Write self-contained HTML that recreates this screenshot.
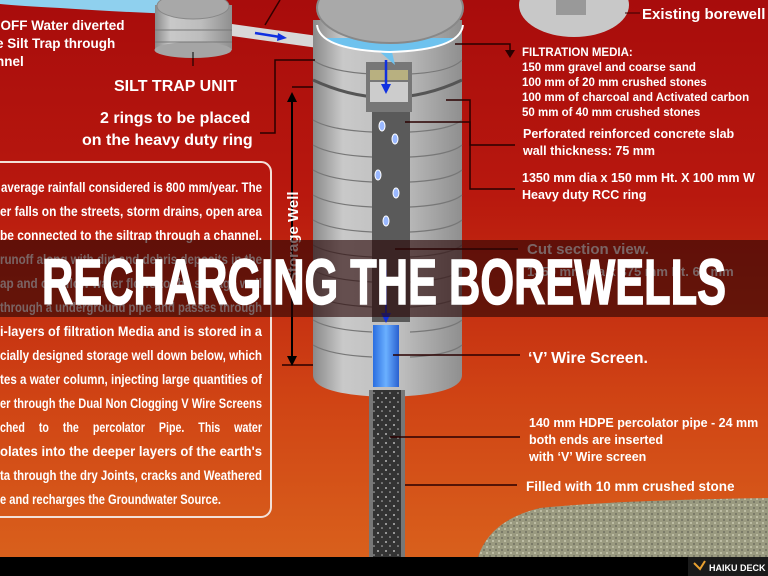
<!DOCTYPE html>
<html><head><meta charset="utf-8"><style>
html,body{margin:0;padding:0;width:768px;height:576px;overflow:hidden;background:#000}
svg{display:block}
text{font-family:"Liberation Sans",Arial,sans-serif;font-weight:bold;fill:#fff}
</style></head><body>
<svg width="768" height="576" viewBox="0 0 768 576" xmlns="http://www.w3.org/2000/svg">
<defs>
<linearGradient id="bg" x1="0" y1="0" x2="0" y2="1">
<stop offset="0" stop-color="#a80c0c"/><stop offset="0.35" stop-color="#b8180e"/>
<stop offset="0.7" stop-color="#cf4214"/><stop offset="1" stop-color="#d9601c"/>
</linearGradient>
<linearGradient id="cyl" x1="0" y1="0" x2="1" y2="0">
<stop offset="0" stop-color="#8a8a8a"/><stop offset="0.2" stop-color="#c9c9c9"/>
<stop offset="0.6" stop-color="#bdbdbd"/><stop offset="1" stop-color="#8f8f8f"/>
</linearGradient>
<linearGradient id="blue" x1="0" y1="0" x2="1" y2="0">
<stop offset="0" stop-color="#2a6de0"/><stop offset="0.5" stop-color="#6ab0ff"/><stop offset="1" stop-color="#2a60d0"/>
</linearGradient>
<pattern id="dots" width="8" height="9" patternUnits="userSpaceOnUse">
<rect width="8" height="9" fill="#333"/><circle cx="2" cy="2" r="0.9" fill="#ddd"/><circle cx="6" cy="6" r="0.8" fill="#bbb"/>
</pattern>
<pattern id="grav" width="6" height="6" patternUnits="userSpaceOnUse">
<rect width="6" height="6" fill="#9a9a80"/><circle cx="1" cy="1" r="1" fill="#c8c8b0"/><circle cx="4" cy="4" r="1" fill="#707060"/>
</pattern>
</defs>
<rect width="768" height="557" fill="url(#bg)"/>
<path d="M0 0 H170 L175 14 Q120 12 60 8 Q20 6 0 4 Z" fill="#8fd0ee"/>
<rect x="155" y="5" width="77" height="45" fill="url(#cyl)"/>
<ellipse cx="193" cy="50" rx="38.5" ry="8" fill="#a5a5a5"/>
<line x1="155" y1="30" x2="232" y2="30" stroke="#777"/><line x1="155" y1="42" x2="232" y2="42" stroke="#777"/>
<ellipse cx="193" cy="6" rx="36" ry="13" fill="#a8a8a8" stroke="#888"/>
<line x1="193" y1="52" x2="193" y2="66" stroke="#000"/>
<path d="M232 24 L318 36 L318 48 L232 36 Z" fill="#d8d8d8"/>
<line x1="255" y1="33" x2="280" y2="37" stroke="#1030e0" stroke-width="2.5"/><path d="M278 33 L287 38 L277 41 Z" fill="#1030e0"/>
<line x1="265" y1="25" x2="280" y2="0" stroke="#300" stroke-width="1.5"/>
<ellipse cx="574" cy="5" rx="55" ry="32" fill="#c8c8c8"/>
<rect x="556" y="-5" width="30" height="20" fill="#999"/>
<line x1="625" y1="13" x2="640" y2="13" stroke="#300"/>
<path d="M313 20 V375 Q313 395 388 397 Q462 395 462 375 V20 Z" fill="url(#cyl)"/>
<g stroke="#777" stroke-width="1.2" fill="none">
<path d="M313 60 Q330 72 372 74"/><path d="M410 74 Q450 72 462 60"/>
<path d="M313 120 Q330 130 372 132"/><path d="M410 132 Q450 130 462 120"/>
<path d="M313 145 Q330 155 372 157"/><path d="M410 157 Q450 155 462 145"/>
<path d="M313 170 Q330 180 372 182"/><path d="M410 182 Q450 180 462 170"/>
<path d="M313 195 Q330 205 372 207"/><path d="M410 207 Q450 205 462 195"/>
<path d="M313 220 Q330 230 372 232"/><path d="M410 232 Q450 230 462 220"/>
<path d="M313 245 Q330 255 372 257"/><path d="M410 257 Q450 255 462 245"/>
<path d="M313 270 Q330 280 372 282"/><path d="M410 282 Q450 280 462 270"/>
<path d="M313 295 Q330 305 372 307"/><path d="M410 307 Q450 305 462 295"/>
<path d="M313 320 Q330 330 372 332"/><path d="M410 332 Q450 330 462 320"/>
<path d="M313 345 Q330 355 372 357"/><path d="M410 357 Q450 355 462 345"/>
</g>
<path d="M313 80 Q388 115 462 80" stroke="#555" stroke-width="3" fill="none"/>
<rect x="366" y="62" width="46" height="50" fill="#777"/>
<rect x="370" y="70" width="38" height="10" fill="#b8b080"/>
<rect x="370" y="82" width="38" height="20" fill="#ccc"/>
<rect x="372" y="112" width="38" height="210" fill="#5a5a5a"/>
<path d="M325 38 Q340 50 380 52 L395 65 L392 52 Q440 50 455 38 Z" fill="#6ec2ee"/>
<ellipse cx="390" cy="8" rx="73" ry="35" fill="#a9a9a9" stroke="#888" stroke-width="2"/>
<path d="M317 25 Q320 50 390 52 Q460 50 463 25" stroke="#fff" stroke-width="2" fill="none"/>
<line x1="386" y1="60" x2="386" y2="86" stroke="#1030e0" stroke-width="2.5"/><path d="M381 84 L386 94 L391 84 Z" fill="#1030e0"/>
<g fill="#9ab8ff" stroke="#fff" stroke-width="1">
<ellipse cx="382" cy="126" rx="3" ry="5"/><ellipse cx="395" cy="139" rx="3" ry="5"/><ellipse cx="378" cy="175" rx="3" ry="5"/><ellipse cx="396" cy="193" rx="3" ry="5"/><ellipse cx="386" cy="221" rx="3" ry="5"/>
</g>
<line x1="386" y1="270" x2="386" y2="315" stroke="#1030e0" stroke-width="2"/><path d="M381 313 L386 323 L391 313 Z" fill="#1030e0"/>
<rect x="373" y="325" width="26" height="62" fill="url(#blue)"/>
<rect x="369" y="390" width="36" height="167" fill="url(#dots)"/>
<rect x="369" y="390" width="4" height="167" fill="#777"/><rect x="401" y="390" width="4" height="167" fill="#777"/>
<path d="M478 557 Q490 520 540 508 Q620 500 768 498 V557 Z" fill="url(#grav)"/>
<g stroke="#2a0000" stroke-width="1.5" fill="none">
<path d="M315 60 H275 V133 H260"/>
<path d="M313 87 H292"/>
<path d="M455 44 H510 V52"/>
<path d="M446 100 H470 V145 H515"/>
<path d="M405 122 H470 V189 H515"/>
<path d="M395 249 H518"/><path d="M393 355 H520"/><path d="M390 437 H520"/><path d="M405 485 H517"/>
<path d="M282 365 H313"/>
</g>
<path d="M505 50 L515 50 L510 58 Z" fill="#2a0000"/>
<line x1="292" y1="100" x2="292" y2="360" stroke="#000" stroke-width="2"/>
<path d="M287 102 L292 92 L297 102 Z M287 356 L292 366 L297 356 Z" fill="#000"/>
<text x="0" y="0" transform="translate(298,282) rotate(-90)" font-size="15">Storage Well</text>
<rect x="-12" y="162" width="283" height="355" rx="10" fill="none" stroke="#f3e0d8" stroke-width="2"/>
<g font-size="13.5">
<text x="1" y="192" textLength="261" lengthAdjust="spacingAndGlyphs">average rainfall considered is 800 mm/year. The</text>
<text x="0" y="216" textLength="262" lengthAdjust="spacingAndGlyphs">er falls on the streets, storm drains, open area</text>
<text x="0" y="240" textLength="262" lengthAdjust="spacingAndGlyphs">be connected to the siltrap through a channel.</text>
<text x="0" y="264" textLength="262" lengthAdjust="spacingAndGlyphs">runoff along with dirt and debris deposits in the</text>
<text x="0" y="288" textLength="262" lengthAdjust="spacingAndGlyphs">ap and overflow water flows to the storage well</text>
<text x="0" y="312" textLength="262" lengthAdjust="spacingAndGlyphs">through a underground pipe and passes through</text>
<text x="0" y="336" textLength="262" lengthAdjust="spacingAndGlyphs">i-layers of filtration Media and is stored in a</text>
<text x="0" y="360" textLength="262" lengthAdjust="spacingAndGlyphs">cially designed storage well down below, which</text>
<text x="0" y="384" textLength="262" lengthAdjust="spacingAndGlyphs">tes a water column, injecting large quantities of</text>
<text x="0" y="408" textLength="262" lengthAdjust="spacingAndGlyphs">er through the Dual Non Clogging V Wire Screens</text>
<text x="0" y="432" textLength="262" lengthAdjust="spacingAndGlyphs" word-spacing="14">ched to the percolator Pipe. This water</text>
<text x="0" y="456" textLength="262" lengthAdjust="spacingAndGlyphs">olates into the deeper layers of the earth's</text>
<text x="0" y="480" textLength="262" lengthAdjust="spacingAndGlyphs">ta through the dry Joints, cracks and Weathered</text>
<text x="0" y="504" textLength="221" lengthAdjust="spacingAndGlyphs">e and recharges the Groundwater Source.</text>
</g>
<g font-size="13.5">
<text x="-4" y="30">-OFF Water diverted</text>
<text x="-4" y="48">e Silt Trap through</text>
<text x="-4" y="66">nnel</text>
</g>
<text x="114" y="91" font-size="16">SILT TRAP UNIT</text>
<text x="100" y="123" font-size="16">2 rings to be placed</text>
<text x="82" y="145" font-size="16">on the heavy duty ring</text>
<text x="642" y="19" font-size="15">Existing borewell</text>
<g font-size="11.5">
<text x="522" y="56">FILTRATION MEDIA:</text>
<text x="522" y="71">150 mm gravel and coarse sand</text>
<text x="522" y="86">100 mm of 20 mm crushed stones</text>
<text x="522" y="101">100 mm of charcoal and Activated carbon</text>
<text x="522" y="116">50 mm of 40 mm crushed stones</text>
</g>
<g font-size="12.5">
<text x="523" y="138">Perforated reinforced concrete slab</text>
<text x="523" y="155">wall thickness: 75 mm</text>
<text x="522" y="182">1350 mm dia x 150 mm Ht. X 100 mm W</text>
<text x="522" y="199">Heavy duty RCC ring</text>
</g>
<text x="527" y="254" font-size="15">Cut section view.</text>
<text x="527" y="276" font-size="13">1350 mm dia x 375 mm Ht. 65 mm</text>
<text x="528" y="363" font-size="16">‘V’ Wire Screen.</text>
<g font-size="12.5">
<text x="529" y="427">140 mm HDPE percolator pipe - 24 mm</text>
<text x="529" y="444">both ends are inserted</text>
<text x="529" y="461">with ‘V’ Wire screen</text>
</g>
<text x="526" y="491" font-size="13.5">Filled with 10 mm crushed stone</text>
<rect x="0" y="240" width="768" height="77" fill="rgba(40,5,5,0.62)"/>
<text x="42" y="304" font-size="64" textLength="684" lengthAdjust="spacingAndGlyphs" stroke="#fff" stroke-width="1.5">RECHARGING THE BOREWELLS</text>
<rect x="0" y="557" width="768" height="19" fill="#000"/>
<rect x="688" y="557" width="80" height="19" fill="#1a1a1a"/>
<path d="M694 563 L700 569 L705 561" stroke="#e8a030" stroke-width="2" fill="none"/>
<text x="709" y="571" font-size="9">HAIKU DECK</text>
</svg>
</body></html>
